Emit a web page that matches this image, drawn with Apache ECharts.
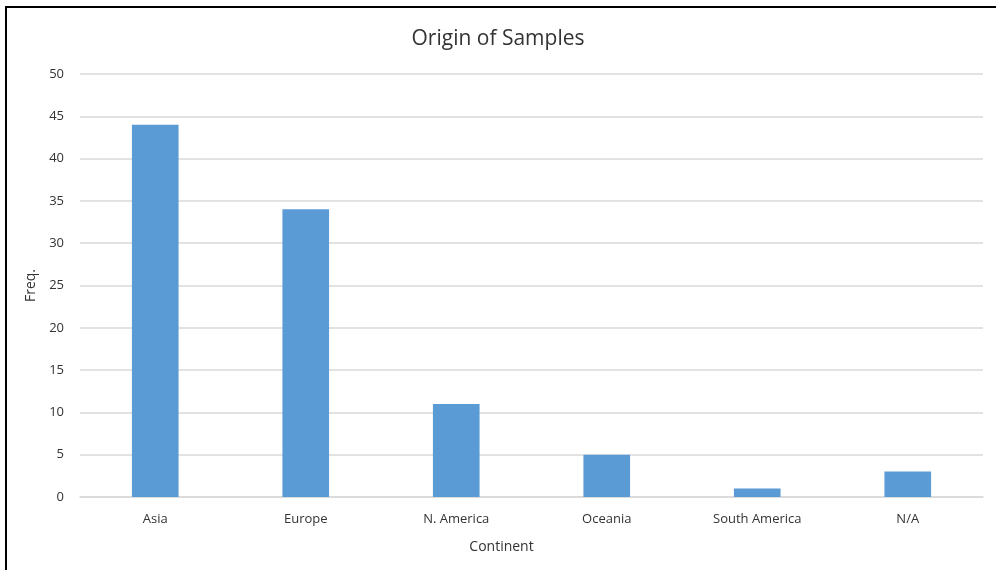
<!DOCTYPE html>
<html>
<head>
<meta charset="utf-8">
<script src="https://cdn.jsdelivr.net/npm/echarts@6/dist/echarts.min.js"></script>
<style>
  html, body { margin: 0; padding: 0; background: #fff; }
  #chart { width: 996px; height: 570px; }
</style>
</head>
<body>
<div id="chart"></div>
<script>
// data
var continents = ['Asia', 'Europe', 'N. America', 'Oceania', 'South America', 'N/A']
var freq = [44, 34, 11, 5, 1, 3]

var chart = echarts.init(document.getElementById('chart'))
var font = "'Open Sans', 'DejaVu Sans', sans-serif"

chart.setOption({
  animation: false,
  title: {
    text: 'Origin of Samples',
    left: 'center',
    top: 24,
    textStyle: { fontSize: 21, fontWeight: 'normal', color: '#333', fontFamily: font }
  },
  graphic: [{
    type: 'rect',
    shape: { x: 6, y: 7, width: 1010, height: 600 },
    style: { fill: 'none', stroke: '#000', lineWidth: 2 },
    silent: true
  }],
  grid: { left: 80, right: 13, top: 74, bottom: 73 },
  xAxis: {
    type: 'category',
    data: continents,
    name: 'Continent',
    nameLocation: 'middle',
    nameGap: 43,
    nameTextStyle: { fontSize: 14, color: '#333', fontFamily: font, padding: [0, 60, 0, 0] },
    axisLine: { lineStyle: { color: '#d9d9d9', width: 1.5 } },
    axisTick: { show: false },
    axisLabel: { margin: 16, fontSize: 13, color: '#333', fontFamily: font }
  },
  yAxis: {
    type: 'value',
    min: 0,
    max: 50,
    interval: 5,
    name: 'Freq.',
    nameLocation: 'middle',
    nameGap: 40,
    nameTextStyle: { fontSize: 14, color: '#333', fontFamily: font },
    axisLine: { show: false },
    axisTick: { show: false },
    splitLine: { lineStyle: { color: '#d9d9d9', width: 1.5 } },
    axisLabel: { margin: 16, fontSize: 13, color: '#333', fontFamily: font }
  },
  series: [{
    type: 'bar',
    data: freq,
    barWidth: '31%',
    itemStyle: { color: '#5b9bd5' }
  }]
})
</script>
</body>
</html>
